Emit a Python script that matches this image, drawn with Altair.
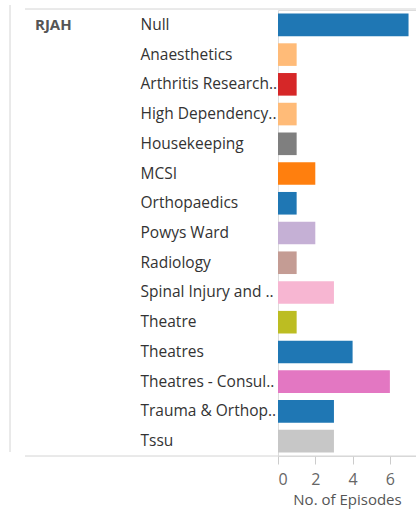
import altair as alt
import pandas as pd

departments = [
    "Null", "Anaesthetics", "Arthritis Research..", "High Dependency..",
    "Housekeeping", "MCSI", "Orthopaedics", "Powys Ward", "Radiology",
    "Spinal Injury and ..", "Theatre", "Theatres", "Theatres - Consul..",
    "Trauma & Orthop..", "Tssu",
]
episodes = [7, 1, 1, 1, 1, 2, 1, 2, 1, 3, 1, 4, 6, 3, 3]
colors = [
    "#1f77b4", "#ffbb78", "#d62728", "#ffbb78", "#7f7f7f", "#ff7f0e",
    "#1f77b4", "#c5b0d5", "#c49c94", "#f7b6d2", "#bcbd22", "#1f77b4",
    "#e377c2", "#1f77b4", "#c7c7c7",
]
hospital = ["RJAH"]
x_ticks = [0, 2, 4, 6]

FONT = "Open Sans"
W, H = 138, 446

df = pd.DataFrame({"Department": departments, "Episodes": episodes})
hosp_df = pd.DataFrame({"Hospital": hospital, "Department": [departments[0]]})
one = pd.DataFrame({"a": [0]})

y_enc = alt.Y(
    "Department:N",
    sort=departments,
    scale=alt.Scale(paddingInner=0.24, paddingOuter=0.12),
    axis=alt.Axis(
        title=None, ticks=False, domain=False, labelAlign="left",
        labelPadding=138, labelFont=FONT, labelFontSize=15.5,
        labelColor="#333333", labelLimit=140,
    ),
)

bars = alt.Chart(df).mark_bar().encode(
    x=alt.X(
        "Episodes:Q",
        scale=alt.Scale(domain=[0, 7.4], nice=False),
        axis=alt.Axis(
            values=x_ticks, grid=False, domain=False, tickSize=8,
            tickColor="#cccccc", labelFont=FONT, labelFontSize=16,
            labelColor="#666666", labelPadding=7, labelFlush=True,
            title="No. of Episodes", titleFont=FONT, titleFontSize=15,
            titleFontWeight="normal", titleColor="#555555",
            titleBaseline="middle", titleY=43,
        ),
    ),
    y=y_enc,
    color=alt.Color(
        "Department:N",
        scale=alt.Scale(domain=departments, range=colors),
        legend=None,
    ),
)

hosp = alt.Chart(hosp_df).mark_text(
    align="left", baseline="middle", font=FONT, fontSize=15,
    fontWeight="bold", color="#555555",
).encode(
    x=alt.value(-243),
    y=alt.Y("Department:N", sort=departments),
    text="Hospital:N",
)

line_style = dict(color="#d4d4d4", strokeWidth=1)
top_rule = alt.Chart(one).mark_rule(**line_style).encode(
    x=alt.value(-253), x2=alt.value(W), y=alt.value(-1)
)
bottom_rule = alt.Chart(one).mark_rule(**line_style).encode(
    x=alt.value(-253), x2=alt.value(W), y=alt.value(H)
)
left_rule = alt.Chart(one).mark_rule(**line_style).encode(
    x=alt.value(-268), y=alt.value(-5), y2=alt.value(H - 4)
)

chart = (
    alt.layer(bars, hosp, top_rule, bottom_rule, left_rule)
    .properties(
        width=W, height=H,
        autosize=alt.AutoSizeParams(type="none"),
        padding={"left": 278, "top": 10, "right": 0, "bottom": 55},
    )
    .configure_view(stroke=None)
    .configure(background="white")
)

chart.save("out.html", embed_options={"renderer": "svg", "actions": False})
